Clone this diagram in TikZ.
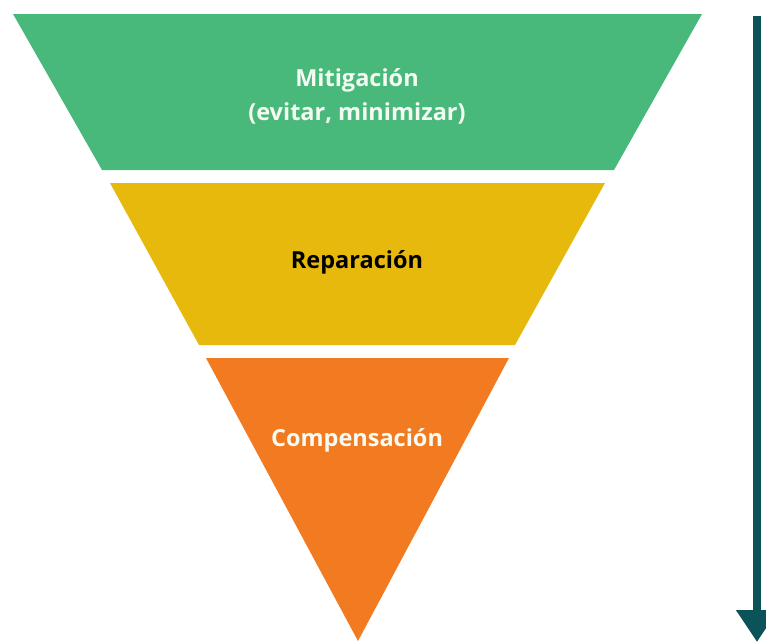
\documentclass[tikz,border=0pt]{standalone}
\usepackage{fontspec}
\setmainfont{Open Sans}
\usetikzlibrary{arrows.meta}
\definecolor{bandgreen}{HTML}{48B97A}
\definecolor{bandyellow}{HTML}{E6B90C}
\definecolor{bandorange}{HTML}{F27B22}
\definecolor{arrowteal}{HTML}{0B5259}
\definecolor{lighttext}{HTML}{F4FBF2}
\tikzset{
  band/.style={draw=none},
  label/.style={font=\bfseries\fontsize{23.5}{34}\selectfont, align=center, inner sep=0pt},
}
\begin{document}
\begin{tikzpicture}[x=1pt,y=-1pt]
\useasboundingbox (0,0) rectangle (766,643);
% bands (slices of the inverted triangle)
\fill[band,bandgreen] (13,14) -- (702,14) -- (614,170) -- (102,170) -- cycle;
\fill[band,bandyellow] (110,183) -- (605,183) -- (515,345) -- (199,345) -- cycle;
\fill[band,bandorange] (206,358) -- (509,358) -- (358,641) -- cycle;
% labels
\node[label, text=lighttext] (mit) at (357,96) {Mitigación\\(evitar, minimizar)};
\node[label, text=black] (rep) at (357,262) {Reparación};
\node[label, text=lighttext] (comp) at (357,440) {Compensación};
% arrow
\coordinate (a1) at (757,16);
\coordinate (a2) at (757,642);
\draw[arrowteal, line width=8pt, -{Triangle[width=40pt,length=32pt]}] (a1) -- (a2);
\end{tikzpicture}
\end{document}
